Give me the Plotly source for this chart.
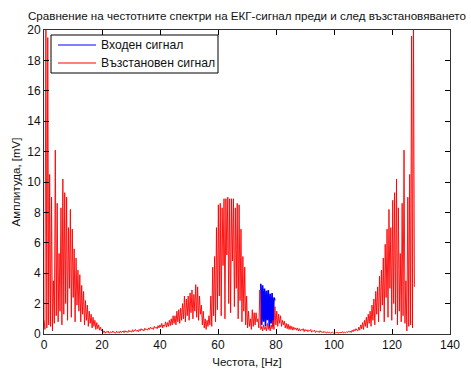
import plotly.graph_objects as go

# ---------------- data ----------------
FREQ_STEP_HZ = 0.325  # spectral bin spacing of the plotted spectrum

# Reconstructed signal spectrum (red), amplitude in mV per bin
RED_0_20 = [0.9, 0.3, 21.0, 0.4, 19.5, 0.6, 10.5, 0.5, 9.0, 0.2,
            3.5, 0.7, 12.1, 1.2, 8.6, 0.8, 5.3, 1.5, 8.3, 0.6,
            10.2, 1.3, 9.3, 2.0, 9.0, 0.9, 7.0, 3.0, 8.2, 1.1,
            6.9, 2.4, 5.6, 0.8, 5.0, 1.9, 4.2, 1.5, 3.9, 0.8,
            3.2, 1.3, 2.8, 0.6, 2.2, 0.9, 1.9, 0.5, 1.5, 0.7,
            1.3, 0.4, 1.1, 0.5, 0.9, 0.3, 0.75, 0.35, 0.6, 0.25,
            0.45, 0.2]
RED_20_40 = [0.3, 0.1, 0.2, 0.05, 0.15, 0.1, 0.2, 0.05, 0.1, 0.15,
             0.08, 0.2, 0.1, 0.12, 0.05, 0.18, 0.1, 0.15, 0.06, 0.2,
             0.1, 0.15, 0.2, 0.08, 0.22, 0.12, 0.18, 0.1, 0.25, 0.15,
             0.2, 0.12, 0.28, 0.15, 0.22, 0.3, 0.18, 0.25, 0.15, 0.3,
             0.2, 0.35, 0.25, 0.3, 0.2, 0.38, 0.28, 0.33, 0.25, 0.4,
             0.3, 0.45, 0.35, 0.4, 0.3, 0.5, 0.38, 0.45, 0.35, 0.55, 0.4, 0.6]
RED_40_57 = [0.45, 0.7, 0.4, 0.6, 0.5, 0.8, 0.45, 0.75, 0.5, 0.9,
             0.55, 1.0, 0.6, 1.2, 0.7, 1.2, 0.6, 1.5, 0.8, 1.6,
             0.7, 1.7, 0.9, 2.0, 1.0, 2.5, 0.8, 2.3, 1.2, 2.5,
             0.9, 2.7, 1.4, 2.9, 1.0, 2.6, 1.5, 3.25, 1.1, 3.1,
             0.9, 2.5, 1.3, 1.9, 0.6, 1.5, 0.4, 1.0, 0.3, 0.9,
             0.5, 1.2]
RED_57_72 = [0.6, 2.5, 0.5, 4.4, 1.2, 5.1, 0.8, 7.0, 1.6, 8.5,
             2.5, 8.6, 1.2, 8.3, 4.5, 8.9, 1.0, 8.9, 5.2, 9.0,
             2.0, 8.9, 1.4, 8.9, 4.8, 8.9, 1.8, 8.3, 3.0, 8.6,
             1.0, 8.5, 2.2, 6.9, 0.8, 5.1, 1.5, 4.4, 0.6, 2.5,
             0.4, 1.5, 0.5, 1.0, 0.3, 1.6]
RED_72_88 = [0.5, 1.4, 0.6, 1.4, 0.8, 1.0, 0.4, 2.9, 0.3, 0.5,
             0.2, 0.6, 0.3, 0.45, 0.2, 0.7, 0.3, 0.5, 0.2, 0.6,
             0.35, 0.9, 0.3, 1.8, 0.6, 1.5, 0.5, 1.3, 0.7, 1.2,
             0.5, 0.9, 0.6, 0.85, 0.4, 0.7, 0.35, 0.65, 0.3, 0.55,
             0.3, 0.5, 0.25, 0.45, 0.3, 0.4, 0.25, 0.4, 0.2]
RED_88_108 = [0.35, 0.2, 0.3, 0.25, 0.35, 0.15, 0.3, 0.2, 0.28, 0.15,
              0.25, 0.2, 0.3, 0.12, 0.22, 0.18, 0.25, 0.1, 0.2, 0.15,
              0.18, 0.1, 0.22, 0.12, 0.15, 0.08, 0.18, 0.1, 0.12, 0.06,
              0.15, 0.08, 0.12, 0.05, 0.1, 0.12, 0.06, 0.1, 0.05, 0.12,
              0.08, 0.1, 0.05, 0.12, 0.07, 0.1, 0.15, 0.06, 0.12, 0.08,
              0.15, 0.1, 0.18, 0.12, 0.2, 0.1, 0.25, 0.15, 0.3, 0.2, 0.35, 0.25]
RED_108_128 = [0.2, 0.45, 0.25, 0.6, 0.35, 0.75, 0.3, 0.9, 0.5, 1.1,
               0.4, 1.3, 0.7, 1.5, 0.5, 1.9, 0.9, 2.3, 0.6, 2.8,
               1.3, 3.1, 0.8, 3.8, 1.5, 4.2, 1.9, 5.0, 0.8, 5.9,
               2.4, 6.9, 1.1, 8.2, 3.0, 7.0, 0.9, 8.8, 2.0, 9.3,
               1.3, 10.2, 0.6, 8.3, 1.5, 5.3, 0.8, 8.6, 1.2, 12.1,
               0.7, 3.5, 0.2, 9.0, 0.5, 10.5, 0.6, 19.6, 0.4, 21.0,
               3.1]

# Input signal spectrum (blue): only the part not hidden under the red curve
# is readable (74.75-79.6 Hz, starting at bin 230)
BLUE_BAND_START_BIN = 230
BLUE_BAND = [3.3, 0.6, 3.2, 0.8, 3.0, 0.5, 2.85, 0.9, 2.9, 0.4,
             2.65, 0.7, 2.7, 0.5, 2.4, 2.2]

X_TICKS = [0, 20, 40, 60, 80, 100, 120, 140]
Y_TICKS = [0, 2, 4, 6, 8, 10, 12, 14, 16, 18, 20]

TITLE = "Сравнение на честотните спектри на ЕКГ-сигнал преди и след възстановяването"
X_LABEL = "Честота, [Hz]"
Y_LABEL = "Амплитуда, [mV]"
NAME_IN = "Входен сигнал"
NAME_OUT = "Възстановен сигнал"

# ---------------- build ----------------
red = RED_0_20 + RED_20_40 + RED_40_57 + RED_57_72 + RED_72_88 + RED_88_108 + RED_108_128
freq = [round(k * FREQ_STEP_HZ, 4) for k in range(len(red))]
blue_freq = freq[BLUE_BAND_START_BIN:BLUE_BAND_START_BIN + len(BLUE_BAND)]

FONT = "Liberation Sans, Arial, Helvetica, sans-serif"
W, H = 471, 369
ML, MR, MT, MB = 44, 21, 30, 35
PW, PH = W - ML - MR, H - MT - MB

BLUE_C = "#0000ff"
RED_C = "#ff0000"

fig = go.Figure()
fig.add_trace(go.Scatter(x=blue_freq, y=BLUE_BAND, mode="lines", name=NAME_IN,
                         line=dict(color=BLUE_C, width=1.6), showlegend=False))
fig.add_trace(go.Scatter(x=freq, y=red, mode="lines", name=NAME_OUT,
                         line=dict(color=RED_C, width=0.9), showlegend=False))

axis_common = dict(showline=True, linecolor="#333333", linewidth=1, mirror="ticks",
                   ticks="inside", ticklen=5, tickcolor="#000000", tickwidth=1,
                   showgrid=False, zeroline=False, automargin=False,
                   tickfont=dict(family=FONT, size=12, color="#111111"))


# legend drawn as a framed box (MATLAB-style), positions in pixels of the figure
def px_x(px):
    return (px - ML) / PW


def px_y(py):
    return (H - MB - py) / PH


shapes = [
    dict(type="rect", xref="paper", yref="paper", x0=px_x(51), x1=px_x(218),
         y0=px_y(73), y1=px_y(35), line=dict(color="#000000", width=1),
         fillcolor="white", layer="above"),
    dict(type="line", xref="paper", yref="paper", x0=px_x(58), x1=px_x(96),
         y0=px_y(45), y1=px_y(45), line=dict(color=BLUE_C, width=1), layer="above"),
    dict(type="line", xref="paper", yref="paper", x0=px_x(58), x1=px_x(96),
         y0=px_y(63), y1=px_y(63), line=dict(color=RED_C, width=1), layer="above"),
]
annotations = [
    dict(text=NAME_IN, xref="paper", yref="paper", x=px_x(99), y=px_y(45),
         xanchor="left", yanchor="middle", showarrow=False,
         font=dict(family=FONT, size=12.2, color="#111111")),
    dict(text=NAME_OUT, xref="paper", yref="paper", x=px_x(99), y=px_y(63),
         xanchor="left", yanchor="middle", showarrow=False,
         font=dict(family=FONT, size=12.2, color="#111111")),
]

fig.update_layout(
    width=W, height=H,
    margin=dict(l=ML, r=MR, t=MT, b=MB),
    paper_bgcolor="white", plot_bgcolor="white",
    font=dict(family=FONT, size=12, color="#111111"),
    title=dict(text=TITLE, x=0.5, xref="paper", xanchor="center",
               y=1 - 16 / H, yref="container", yanchor="middle",
               font=dict(family=FONT, size=11.6, color="#111111")),
    xaxis=dict(range=[0, 140], tickvals=X_TICKS,
               title=dict(text=X_LABEL, standoff=6, font=dict(family=FONT, size=11.5)),
               **axis_common),
    yaxis=dict(range=[0, 20], tickvals=Y_TICKS,
               title=dict(text=Y_LABEL, standoff=4, font=dict(family=FONT, size=11.5)),
               **axis_common),
    shapes=shapes,
    annotations=annotations,
    showlegend=False,
)

fig.write_html("out.html")
